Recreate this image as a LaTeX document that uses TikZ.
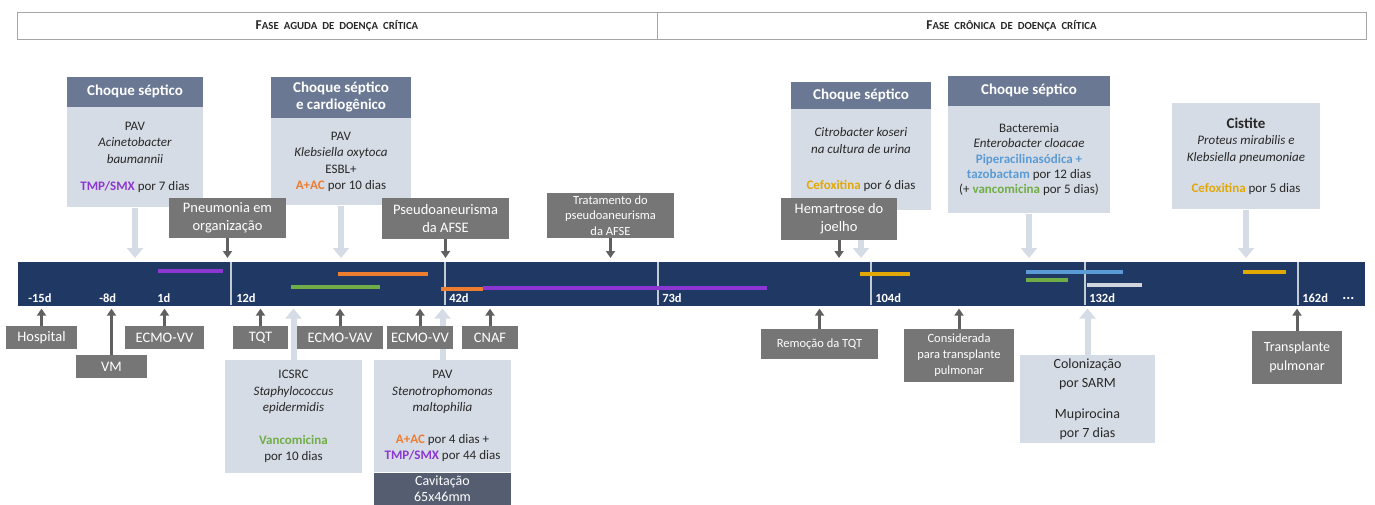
\documentclass[tikz,border=0pt]{standalone}
\usepackage{fontspec}
\setmainfont{Carlito}
\usepackage{xcolor}
\usetikzlibrary{arrows.meta}
\usetikzlibrary{positioning}

\definecolor{navy}{RGB}{31,56,100}
\definecolor{slate}{RGB}{106,120,148}
\definecolor{paleblue}{RGB}{214,220,229}
\definecolor{boxgray}{RGB}{118,118,118}
\definecolor{arrgray}{RGB}{96,96,96}
\definecolor{cavgray}{RGB}{84,94,112}
\definecolor{tickgray}{RGB}{196,202,212}
\definecolor{framegray}{RGB}{165,165,165}
\definecolor{txtgray}{RGB}{40,40,40}
\definecolor{tmpviolet}{RGB}{140,55,210}
\definecolor{aacorange}{RGB}{237,125,49}
\definecolor{vancgreen}{RGB}{112,173,71}
\definecolor{cefgold}{RGB}{226,168,8}
\definecolor{pipblue}{RGB}{91,155,213}
\definecolor{mupgray}{RGB}{208,213,222}

\newcommand{\sizeto}[2]{\fontsize{#1}{#2}\selectfont}
\newcommand{\fakesc}[2]{{\sizeto{13.5}{14}#1}{\sizeto{10.8}{12}\spaceskip=5pt#2}}
\newcommand{\TMPSMX}{\textcolor{tmpviolet}{\textbf{TMP/SMX}}}
\newcommand{\AAC}{\textcolor{aacorange}{\textbf{A+AC}}}
\newcommand{\Cefox}{\textcolor{cefgold}{\textbf{Cefoxitina}}}
\newcommand{\Vanco}{\textcolor{vancgreen}{\textbf{Vancomicina}}}

\begin{document}
\begin{tikzpicture}[x=1pt,y=-1pt,>=Triangle,semithick]
\tikzstyle{phasebox}=[draw=framegray, line width=0.8pt, minimum height=27pt, inner sep=0pt, text=txtgray, font=\bfseries]
\tikzstyle{tline}=[fill=navy, draw=navy, minimum width=1346pt, minimum height=43pt, inner sep=0pt, anchor=north west]
\tikzstyle{daylbl}=[text=white, font=\bfseries\sizeto{12.5}{14}, anchor=base west, inner sep=0pt]
\tikzstyle{dosebar}=[line width=4pt]
\tikzstyle{head}=[fill=slate, text=white, font=\bfseries\sizeto{15}{17}, inner sep=0pt, align=center]
\tikzstyle{body}=[fill=paleblue, text=txtgray, font=\sizeto{13}{16.5}, inner sep=0pt, align=center, anchor=north]
\tikzstyle{ev}=[fill=boxgray, text=white, font=\sizeto{14.5}{18}, inner sep=0pt, align=center, minimum height=23pt]
\tikzstyle{darr}=[-{Triangle[width=9pt,length=7pt]}, draw=arrgray, line width=3pt]
\tikzstyle{larr}=[-{Triangle[width=16pt,length=10pt]}, draw=paleblue, line width=6pt]

\useasboundingbox (0,0) rectangle (1375,504);
\clip (0,0) rectangle (1375,504);

% phases
\node[phasebox, minimum width=640pt] (A) at (337,25.5) {\fakesc{F}{ASE AGUDA DE DOENÇA CRÍTICA}};
\node[phasebox, minimum width=709pt] (C) at (1011.5,25.5) {\fakesc{F}{ASE CRÔNICA DE DOENÇA CRÍTICA}};

% timeline
\node[tline] (T) at (18,262) {};
\foreach \x in {231,445,658,871,1085,1298}
  \draw[tickgray, line width=1.4pt] (\x,262) -- (\x,305);
\foreach \x/\d in {28/-15d, 99/-8d, 157/1d, 236/12d, 449/42d, 662/73d, 875/104d, 1089/132d, 1302/162d}
  \node[daylbl] (d\x) at (\x,302) {\d};
\node[daylbl, font=\bfseries\sizeto{15}{15}] (dots) at (1342,299) {...};

\draw[dosebar, tmpviolet] (158,271) -- (223,271);
\draw[dosebar, aacorange] (338,273.5) -- (428,273.5);
\draw[dosebar, vancgreen] (291,287) -- (380,287);
\draw[dosebar, tmpviolet] (483,287.5) -- (767,287.5);
\draw[dosebar, aacorange] (441,288.5) -- (483,288.5);
\draw[dosebar, cefgold] (860,274) -- (910,274);
\draw[dosebar, pipblue] (1026,272) -- (1123,272);
\draw[dosebar, vancgreen] (1026,280) -- (1068,280);
\draw[dosebar, mupgray] (1087,285) -- (1142,285);
\draw[dosebar, cefgold] (1243,272) -- (1286,272);

% infections above
\node[body, minimum width=136pt, minimum height=100pt] (S1) at (135,107)
  {PAV\\\textit{Acinetobacter}\\\textit{baumannii}\\[11pt]\TMPSMX{} por 7 dias};
\node[head, minimum width=136pt, minimum height=30pt] (H1) [above=0pt of S1] {Choque séptico};
\node[body, minimum width=140pt, minimum height=87pt] (S2) at (341,118)
  {PAV\\\textit{Klebsiella oxytoca}\\ESBL+\\\AAC{} por 10 dias};
\node[head, minimum width=140pt, minimum height=41pt] (H2) [above=0pt of S2] {Choque séptico\\e cardiogênico};
\node[body, minimum width=140pt, minimum height=101pt] (S3) at (861,109)
  {\textit{Citrobacter koseri}\\\textit{na cultura de urina}\\[20pt]\Cefox{} por 6 dias};
\node[head, minimum width=140pt, minimum height=27pt] (H3) [above=0pt of S3] {Choque séptico};
\node[body, minimum width=162pt, minimum height=107pt, font=\sizeto{13}{15.3}] (S4) at (1029,106)
  {Bacteremia\\\textit{Enterobacter cloacae}\\\textcolor{pipblue}{\textbf{Piperacilinasódica +}}\\\textcolor{pipblue}{\textbf{tazobactam}} por 12 dias\\(+ \textcolor{vancgreen}{\textbf{vancomicina}} por 5 dias)};
\node[head, minimum width=162pt, minimum height=30pt] (H4) [above=0pt of S4] {Choque séptico};
\node[body, minimum width=148pt, minimum height=106pt] (S5) at (1246,103)
  {{\bfseries\sizeto{15}{17}Cistite}\\\textit{Proteus mirabilis e}\\\textit{Klebsiella pneumoniae}\\[15pt]\Cefox{} por 5 dias};

\path (S1) edge[larr, shorten >=4pt] (S1 |- T.north)
      (S2) edge[larr, shorten >=4pt] (S2 |- T.north)
      (S3) edge[larr, shorten >=4pt] (S3 |- T.north)
      (S4) edge[larr, shorten >=4pt] (S4 |- T.north)
      (S5) edge[larr, shorten >=4pt] (S5 |- T.north);

% events above
\node[ev, minimum width=117pt, minimum height=40pt] (P) at (227.5,218) {Pneumonia em\\organização};
\node[ev, minimum width=127pt, minimum height=41pt] (Q) at (445.5,218.5) {Pseudoaneurisma\\da AFSE};
\node[ev, minimum width=127pt, minimum height=45pt, font=\sizeto{12.5}{15.5}] (R) at (610.5,215.5) {Tratamento do\\pseudoaneurisma\\da AFSE};
\node[ev, minimum width=116pt, minimum height=42pt] (J) at (839,219) {Hemartrose do\\joelho};

\path (P) edge[darr, shorten >=4pt] (P |- T.north)
      (Q) edge[darr, shorten >=4pt] (Q |- T.north)
      (R) edge[darr, shorten >=4pt] (R |- T.north)
      (J) edge[darr, shorten >=4pt] (J |- T.north);

% infections below
\node[body, minimum width=137pt, minimum height=113pt] (I) at (293.5,360)
  {ICSRC\\\textit{Staphylococcus}\\\textit{epidermidis}\\[16pt]\Vanco\\por 10 dias};
\node[body, minimum width=137pt, minimum height=112pt] (V) at (442.5,360)
  {PAV\\\textit{Stenotrophomonas}\\\textit{maltophilia}\\[15pt]\AAC{} por 4 dias +\\\TMPSMX{} por 44 dias};
\node[ev, fill=cavgray, minimum width=137pt, minimum height=32pt, font=\sizeto{14}{15.5}] (K) [below=0pt of V] {Cavitação\\65x46mm};
\node[body, minimum width=135pt, minimum height=88pt, font=\sizeto{14}{19}] (M) at (1087.5,355)
  {Colonização\\por SARM\\[12pt]Mupirocina\\por 7 dias};

\path (I) edge[larr, shorten >=3pt] (I |- T.south)
      (V) edge[larr, shorten >=3pt] (V |- T.south)
      (M) edge[larr, shorten >=3pt] (M |- T.south);

% events below
\node[ev, minimum width=71pt] (h) at (41.5,337.5) {Hospital};
\node[ev, minimum width=71pt] (vm) at (111.5,366.5) {VM};
\node[ev, minimum width=79pt] (e1) at (164.5,337.5) {ECMO-VV};
\node[ev, minimum width=55pt] (t) at (260.5,337.5) {TQT};
\node[ev, minimum width=86pt] (e2) at (340,337.5) {ECMO-VAV};
\node[ev, minimum width=66pt] (e3) at (420,337.5) {ECMO-VV};
\node[ev, minimum width=56pt] (cn) at (490,337.5) {CNAF};
\node[ev, minimum width=117pt, minimum height=30pt, font=\sizeto{12.5}{15}] (rt) at (819.5,344) {Remoção da TQT};
\node[ev, minimum width=110pt, minimum height=53pt, font=\sizeto{12.5}{16}] (tx) at (959,355.5) {Considerada\\para transplante\\pulmonar};
\node[ev, minimum width=90pt, minimum height=53pt, font=\sizeto{14}{19}] (tp) at (1297,357.5) {Transplante\\pulmonar};

\path (h) edge[darr, shorten >=3pt] (h |- T.south)
      (vm) edge[darr, shorten >=3pt] (vm |- T.south)
      (e1) edge[darr, shorten >=3pt] (e1 |- T.south)
      (t) edge[darr, shorten >=3pt] (t |- T.south)
      (e2) edge[darr, shorten >=3pt] (e2 |- T.south)
      (e3) edge[darr, shorten >=3pt] (e3 |- T.south)
      (cn) edge[darr, shorten >=3pt] (cn |- T.south)
      (rt) edge[darr, shorten >=3pt] (rt |- T.south)
      (tx) edge[darr, shorten >=3pt] (tx |- T.south)
      (tp) edge[darr, shorten >=3pt] (tp |- T.south);
\end{tikzpicture}
\end{document}
